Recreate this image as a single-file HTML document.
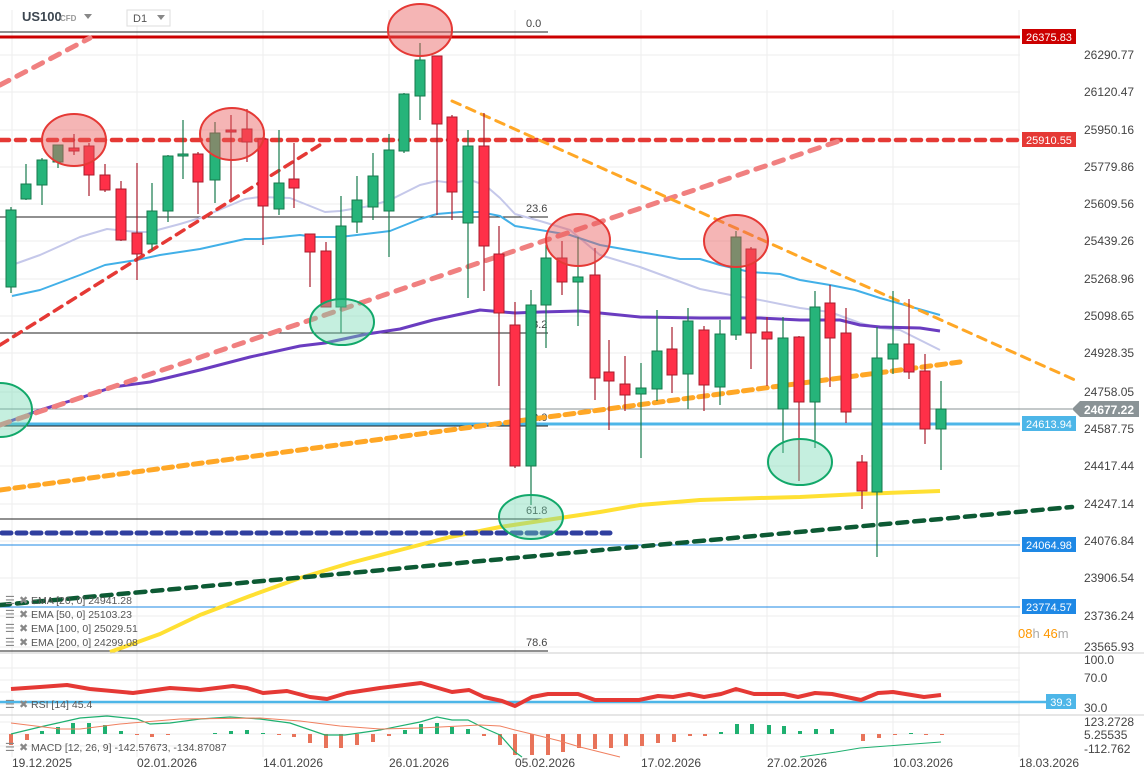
<!DOCTYPE html>
<html><head><meta charset="utf-8"><style>
html,body{margin:0;padding:0;background:#fff;}
svg{display:block;font-family:"Liberation Sans",sans-serif;}
</style></head><body>
<svg id="s" width="1144" height="779" viewBox="0 0 1144 779" xmlns="http://www.w3.org/2000/svg">
<rect width="1144" height="779" fill="#fff"/>
<g id="grid" stroke="#eeeeee" stroke-width="1"></g>
<g id="fib" stroke="#222" stroke-width="1" font-size="11" fill="#444"></g>
<g id="lines"></g>
<g id="candles"></g>
<g id="ell"></g>
<g id="axis" font-size="12" fill="#444"></g>
</svg>
<script>
const NS="http://www.w3.org/2000/svg";
function el(p,t,a,txt){const e=document.createElementNS(NS,t);for(const k in a)e.setAttribute(k,a[k]);if(txt!==undefined)e.textContent=txt;(typeof p==='string'?document.getElementById(p):p).appendChild(e);return e;}
const S=document.getElementById('s');
[55,92,130,167,204,241,279,316,353,392,429,466,504,541,578,616,647].forEach(y=>el('grid','line',{x1:0,x2:1020,y1:y,y2:y}));
[12,137,263,389,515,641,767,893,1019].forEach(x=>el('grid','line',{x1:x,x2:x,y1:10,y2:757}));
[668,680,692,704].forEach(y=>el('grid','line',{x1:0,x2:1020,y1:y,y2:y}));
[722,734,746].forEach(y=>el('grid','line',{x1:0,x2:1020,y1:y,y2:y}));
[[32,'0.0'],[217,'23.6'],[333,'38.2'],[426,'50.0'],[519,'61.8'],[651,'78.6']].forEach(([y,t])=>{el('fib','line',{x1:0,x2:548,y1:y,y2:y});el('fib','text',{x:526,y:y-5,stroke:'none'},t);});
el(S,'text',{x:22,y:21,'font-size':13,'font-weight':'bold',fill:'#3c4650'},'US100');
el(S,'text',{x:60,y:21,'font-size':8,'font-weight':'bold',fill:'#999'},'CFD');
el(S,'path',{d:'M84 14 L92 14 L88 19 Z',fill:'#888'});
el(S,'rect',{x:127,y:10,width:43,height:16,fill:'#fff',stroke:'#ddd'});
el(S,'text',{x:133,y:22,'font-size':11,fill:'#555'},'D1');
el(S,'path',{d:'M157 15 L165 15 L161 20 Z',fill:'#888'});
function pl(pts,stroke,w,dash,op){el('lines','polyline',{points:pts.map(p=>p.join(',')).join(' '),fill:'none',stroke:stroke,'stroke-width':w,'stroke-dasharray':dash||'none','stroke-linecap':dash?'round':'butt','stroke-linejoin':'round',opacity:op||1});}
pl([[0,37],[1020,37]],'#cc0000',3);
pl([[0,140],[1020,140]],'#e53935',4.5,'9,7');
pl([[0,424],[1020,424]],'#4db6e8',3);
pl([[0,409],[1072,409]],'#8a9396',1);
pl([[0,545],[1020,545]],'#1e88e5',1);
pl([[0,607],[1020,607]],'#1e88e5',1);
pl([[12,265],[40,255],[80,237],[107,229],[137,232],[150,232],[180,224],[200,218],[245,199],[260,197],[290,198],[325,212],[340,211],[370,206],[390,200],[420,185],[437,181],[452,183],[470,180],[485,185],[500,198],[515,214],[540,221],[570,230],[600,255],[640,267],[670,278],[700,289],[736,296],[760,300],[800,308],[830,312],[860,323],[880,328],[900,330],[940,350]],'#c5c8ea',2);
pl([[12,296],[40,290],[80,275],[105,265],[137,260],[160,255],[200,249],[245,239],[260,239],[300,235],[315,237],[340,237],[390,231],[420,219],[437,214],[460,212],[480,212],[500,216],[515,226],[540,230],[570,235],[600,245],[640,252],[680,259],[700,259],[720,265],[750,272],[780,274],[800,280],[830,285],[855,290],[880,298],[940,315]],'#42b0e8',2);
pl([[0,425],[40,410],[80,398],[113,387],[150,382],[200,370],[250,357],[300,346],[325,343],[367,334],[400,329],[433,320],[480,310],[515,313],[540,312],[580,311],[640,317],[700,318],[760,318],[800,320],[840,320],[860,325],[880,327],[920,328],[940,331]],'#6a3cc0',3);
pl([[110,652],[160,634],[200,615],[250,596],[300,578],[350,563],[400,550],[450,537],[500,527],[540,521],[600,512],[640,505],[700,500],[760,498],[800,497],[860,494],[940,491]],'#ffe033',4);
pl([[0,85],[90,38]],'#f08080',5,'10,9');
pl([[0,425],[845,139]],'#f08080',5,'10,9');
pl([[0,345],[323,143]],'#e53935',3.5,'9,7');
pl([[452,101],[1075,380]],'#ffa726',3,'9,7');
pl([[0,490],[960,362]],'#ffa726',5,'9,6');
pl([[0,605],[1072,507]],'#0d5a34',4.5,'10,7');
pl([[2,533],[610,533]],'#303f9f',5,'9,6');
const C=[[11,210,287,207,293,1],[26,184,199,164,200,1],[42,160,185,158,205,1],[58,145,162,145,168,1],[74,148,151,134,155,0],[89,146,175,143,196,0],[105,175,190,164,192,0],[121,189,240,181,241,0],[137,233,254,163,280,0],[152,211,244,183,250,1],[168,156,211,155,222,1],[183,154,156,120,179,1],[198,154,182,152,214,0],[215,133,180,122,203,1],[231,130,132,115,200,0],[247,129,142,109,162,0],[263,139,206,137,245,0],[279,183,209,130,215,1],[294,179,188,143,208,0],[310,234,252,234,287,0],[326,251,307,242,307,0],[341,226,307,196,333,1],[357,200,222,176,233,1],[373,176,207,153,220,1],[389,150,211,134,257,1],[404,94,151,93,153,1],[420,60,96,43,120,1],[437,56,124,56,215,0],[452,117,192,115,220,0],[468,146,223,130,298,1],[484,146,246,113,291,0],[499,254,313,226,386,0],[515,325,466,302,468,0],[531,305,466,290,505,1],[546,258,305,245,348,1],[562,258,282,241,295,0],[578,277,282,237,326,1],[595,275,378,248,400,0],[609,372,381,340,430,0],[625,384,395,356,411,0],[641,388,394,363,458,1],[657,351,389,310,401,1],[672,349,375,327,393,0],[688,321,374,308,409,1],[704,330,385,326,411,0],[720,334,387,320,405,1],[736,237,335,231,340,1],[751,249,333,247,369,0],[767,332,339,317,386,0],[783,338,409,317,453,1],[799,337,402,336,481,0],[815,307,402,291,448,1],[830,303,338,285,387,0],[846,333,412,308,423,0],[862,462,491,455,509,0],[877,358,492,327,557,1],[893,344,359,291,374,1],[909,344,372,299,379,0],[925,371,429,354,444,0],[941,409,429,381,470,1]];
C.forEach(([x,t,b,h,l,g])=>{const sc=g?'#167a4c':'#a81c2c',fc=g?'#26b47a':'#ff3048';
el('candles','line',{x1:x,x2:x,y1:h,y2:l,stroke:sc,'stroke-width':1.2});
el('candles','rect',{x:x-5,y:t,width:10,height:Math.max(b-t,2),fill:fc,stroke:sc,'stroke-width':1});});
[[74,140],[232,134],[420,30],[578,240],[736,241]].forEach(([x,y])=>el('ell','ellipse',{cx:x,cy:y,rx:32,ry:26,fill:'rgba(232,90,90,0.45)',stroke:'#e53935','stroke-width':2}));
[[342,322,23],[531,517,22],[800,462,23],[0,410,27]].forEach(([x,y,r])=>el('ell','ellipse',{cx:x,cy:y,rx:32,ry:r,fill:'rgba(110,215,175,0.4)',stroke:'#12a86a','stroke-width':2}));
[[55,'26290.77'],[92,'26120.47'],[130,'25950.16'],[167,'25779.86'],[204,'25609.56'],[241,'25439.26'],[279,'25268.96'],[316,'25098.65'],[353,'24928.35'],[392,'24758.05'],[429,'24587.75'],[466,'24417.44'],[504,'24247.14'],[541,'24076.84'],[578,'23906.54'],[616,'23736.24'],[647,'23565.93'],[660,'100.0'],[678,'70.0'],[708,'30.0'],[722,'123.2728'],[735,'5.25535'],[749,'-112.762']].forEach(([y,t])=>el('axis','text',{x:1084,y:y+4},t));
function box(x,y,w,col,t){el(S,'rect',{x:x,y:y-8,width:w,height:15,fill:col});el(S,'text',{x:x+w/2,y:y+4,'text-anchor':'middle','font-size':11,fill:'#fff'},t);}
box(1022,37,54,'#cc0000','26375.83');
box(1022,140,54,'#e53935','25910.55');
box(1022,424,54,'#4db6e8','24613.94');
box(1022,545,54,'#1e88e5','24064.98');
box(1022,607,54,'#1e88e5','23774.57');
box(1046,702,30,'#4db6e8','39.3');
el(S,'path',{d:'M1072 409 L1080 401 L1139 401 L1139 417 L1080 417 Z',fill:'#8a9396'});
el(S,'text',{x:1109,y:414,'text-anchor':'middle','font-size':12,'font-weight':'bold',fill:'#fff'},'24677.22');
const tm=el(S,'text',{x:1018,y:638,'font-size':13});
tm.innerHTML='<tspan fill="#ff9800">08</tspan><tspan fill="#aaa">h </tspan><tspan fill="#ff9800">46</tspan><tspan fill="#aaa">m</tspan>';
el(S,'line',{x1:0,x2:1144,y1:653,y2:653,stroke:'#ccc'});
el(S,'line',{x1:0,x2:1144,y1:715,y2:715,stroke:'#ccc'});
const rsiG=el(S,'g',{});
el(rsiG,'line',{x1:0,x2:1046,y1:702,y2:702,stroke:'#4db6e8','stroke-width':2.5});
el(rsiG,'polyline',{points:'11,689 40,687 67,685 90,689 133,693 170,688 200,690 233,686 247,688 263,693 287,691 310,697 327,699 347,693 380,688 421,683 452,692 469,690 484,697 502,701 515,706 532,697 548,694 578,694 595,700 639,700 658,696 673,697 689,694 704,697 721,694 736,689 754,694 784,694 798,697 815,693 832,694 861,700 878,693 893,692 924,697 941,695',fill:'none',stroke:'#e53935','stroke-width':4,'stroke-linejoin':'round'});
const mg=el(S,'g',{});
const bars=[[11,11],[27,6],[42,-3],[58,-7],[73,-11],[89,-11],[105,-9],[121,-3],[137,1],[152,3],[168,1],[215,-1],[231,-3],[247,-4],[263,-1],[279,1],[294,3],[310,9],[326,14],[341,14],[357,11],[373,8],[389,2],[405,-4],[421,-10],[437,-11],[452,-7],[468,-5],[484,2],[500,11],[515,21],[532,21],[548,21],[563,18],[579,14],[595,15],[611,14],[626,12],[642,12],[658,9],[674,8],[690,2],[705,2],[721,-2],[737,-10],[752,-10],[769,-9],[784,-8],[800,-3],[816,-5],[832,-5],[863,7],[879,4],[895,1],[911,-1],[926,1],[942,1]];
bars.forEach(([x,h])=>{el(mg,'rect',{x:x-2,y:h<0?734+h:734,width:4,height:Math.max(Math.abs(h),1),fill:h<0?'#1fb070':'#e8735a'});});
el(mg,'polyline',{points:'11,734 40,727 80,718 107,716 137,719 150,724 170,723 200,719 230,717 260,719 290,723 325,735 345,735 380,730 420,722 437,717 452,720 468,720 484,728 500,735 515,752 522,757',fill:'none',stroke:'#1fb070','stroke-width':1.2});
el(mg,'polyline',{points:'11,723 60,729 80,729 120,724 180,719 260,718 300,721 340,726 380,729 420,728 480,725 500,726 515,730 540,736 560,741 580,747 620,757',fill:'none',stroke:'#f08060','stroke-width':1});
el(mg,'polyline',{points:'800,757 836,752 860,748 900,745 941,742',fill:'none',stroke:'#1fb070','stroke-width':1});
function leg(y,t){el(S,'text',{x:5,y:y+4,'font-size':11,fill:'#888'},'☰');el(S,'text',{x:19,y:y+4,'font-size':11,fill:'#888'},'✖');el(S,'text',{x:31,y:y+4,'font-size':10.5,fill:'#555'},t);}
leg(600,'EMA [20, 0] 24941.28');leg(614,'EMA [50, 0] 25103.23');leg(628,'EMA [100, 0] 25029.51');leg(642,'EMA [200, 0] 24299.08');
leg(704,'RSI [14] 45.4');leg(747,'MACD [12, 26, 9] -142.57673, -134.87087');
[[12,'19.12.2025'],[137,'02.01.2026'],[263,'14.01.2026'],[389,'26.01.2026'],[515,'05.02.2026'],[641,'17.02.2026'],[767,'27.02.2026'],[893,'10.03.2026'],[1019,'18.03.2026']].forEach(([x,t])=>el(S,'text',{x:x,y:767,'font-size':12,fill:'#444'},t));
</script>
</body></html>
